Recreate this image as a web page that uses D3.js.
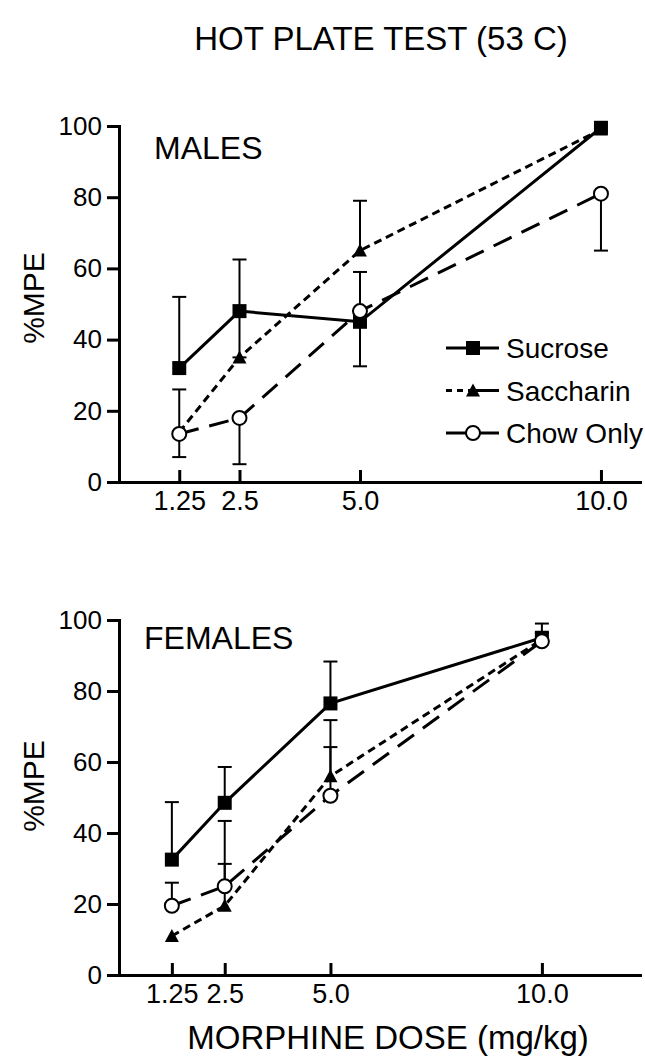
<!DOCTYPE html>
<html>
<head>
<meta charset="utf-8">
<title>Hot Plate Test</title>
<script src="https://d3js.org/d3.v7.min.js"></script>
<style>
  body { margin: 0; background: #fff; }
  svg { display: block; font-family: "Liberation Sans", Arial, Helvetica, sans-serif; }
  .axis path, .axis line { stroke: #000; stroke-width: 3px; }
  .axis text { fill: #000; }
</style>
</head>
<body>
<svg width="645" height="1061"></svg>
<script>
// morphine doses (mg/kg) and tick labels
var doses = [1.25, 2.5, 5.0, 10.0];
var doseLabels = ["1.25", "2.5", "5.0", "10.0"];
var yTicks = [0, 20, 40, 60, 80, 100];
var seriesNames = ["Sucrose", "Saccharin", "Chow Only"];

// males, %MPE means and error bar ends (null = no bar drawn)
var malesSucrose   = [32, 48, 45, 99.5];
var malesSaccharin = [14, 35, 65, 99];
var malesChow      = [13.5, 18, 48, 81];
var malesSucroseHi   = [52, 62.5, 59, null];
var malesSucroseLo   = [null, 35, 32.5, null];
var malesSaccharinHi = [null, null, 79, null];
var malesSaccharinLo = [null, null, null, null];
var malesChowHi      = [26, null, null, null];
var malesChowLo      = [7, 5, null, 65];

// females
var femalesSucrose   = [32.5, 48.5, 76.5, 95];
var femalesSaccharin = [11, 19.5, 56, 94.5];
var femalesChow      = [19.5, 25, 50.5, 94];
var femalesSucroseHi   = [48.7, 58.6, 88.3, 99];
var femalesSucroseLo   = [null, null, null, null];
var femalesSaccharinHi = [null, 43.4, 71.8, 96.3];
var femalesSaccharinLo = [null, null, null, null];
var femalesChowHi      = [26, 31.3, 64.2, null];
var femalesChowLo      = [null, null, null, null];

var styles = {
    "Sucrose":   {dash: null,    marker: "square"},
    "Saccharin": {dash: "8,5",   marker: "triangle"},
    "Chow Only": {dash: "20,11", marker: "circle"}
};

var svg = d3.select("svg");

function marker(g, type, cx, cy) {
    if (type == "square") {
        g.append("rect").attr("x", cx - 7).attr("y", cy - 7)
            .attr("width", 14).attr("height", 14).attr("fill", "#000");
    } else if (type == "triangle") {
        g.append("path")
            .attr("d", "M" + cx + "," + (cy - 7) + "L" + (cx + 7) + "," + (cy + 6) + "L" + (cx - 7) + "," + (cy + 6) + "Z")
            .attr("fill", "#000");
    } else {
        g.append("circle").attr("cx", cx).attr("cy", cy).attr("r", 7)
            .attr("fill", "#fff").attr("stroke", "#000").attr("stroke-width", 2);
    }
}

function panel(p) {
    var x = d3.scaleLinear().domain([0, p.xMax]).range([p.left, p.right]);
    var y = d3.scaleLinear().domain([0, 100]).range([p.bottom, p.top]);
    var g = svg.append("g");

    g.append("g")
        .attr("class", "axis")
        .attr("transform", "translate(0," + p.bottom + ")")
        .call(d3.axisBottom(x).tickValues(doses)
            .tickFormat(function(d, i) { return doseLabels[i]; })
            .tickSizeInner(-12).tickSizeOuter(0).tickPadding(9))
        .selectAll("text").attr("font-size", 27);

    g.append("g")
        .attr("class", "axis")
        .attr("transform", "translate(" + p.left + ",0)")
        .call(d3.axisLeft(y).tickValues(yTicks)
            .tickSizeInner(12).tickSizeOuter(0).tickPadding(5))
        .selectAll("text").attr("font-size", 26);

    g.selectAll(".axis .domain").attr("stroke-linecap", "square");

    var line = d3.line()
        .x(function(d, i) { return x(doses[i]); })
        .y(function(d) { return y(d); });

    p.series.forEach(function(s) {
        g.append("path")
            .datum(s.values)
            .attr("d", line)
            .attr("fill", "none")
            .attr("stroke", "#000")
            .attr("stroke-width", 3)
            .attr("stroke-dasharray", styles[s.name].dash);
    });

    p.series.forEach(function(s) {
        [s.hi, s.lo].forEach(function(ends) {
            ends.forEach(function(e, i) {
                if (e == null) return;
                var cx = x(doses[i]);
                g.append("line").attr("x1", cx).attr("x2", cx)
                    .attr("y1", y(s.values[i])).attr("y2", y(e))
                    .attr("stroke", "#000").attr("stroke-width", 2);
                g.append("line").attr("x1", cx - 7).attr("x2", cx + 7)
                    .attr("y1", y(e)).attr("y2", y(e))
                    .attr("stroke", "#000").attr("stroke-width", 2);
            });
        });
    });

    p.series.forEach(function(s) {
        s.values.forEach(function(v, i) {
            marker(g, styles[s.name].marker, x(doses[i]), y(v));
        });
    });

    g.append("text")
        .attr("x", p.labelX).attr("y", p.labelY)
        .attr("font-size", 32)
        .text(p.label);

    g.append("text")
        .attr("transform", "translate(44," + p.yLabelY + ") rotate(-90)")
        .attr("text-anchor", "middle")
        .attr("font-size", 30)
        .text("%MPE");
}

panel({
    left: 119, right: 640, top: 126, bottom: 482, xMax: 10.81,
    label: "MALES", labelX: 154, labelY: 159, yLabelY: 298,
    series: [
        {name: seriesNames[0], values: malesSucrose, hi: malesSucroseHi, lo: malesSucroseLo},
        {name: seriesNames[1], values: malesSaccharin, hi: malesSaccharinHi, lo: malesSaccharinLo},
        {name: seriesNames[2], values: malesChow, hi: malesChowHi, lo: malesChowLo}
    ]
});

panel({
    left: 119, right: 640, top: 620, bottom: 975, xMax: 12.32,
    label: "FEMALES", labelX: 144, labelY: 649, yLabelY: 786,
    series: [
        {name: seriesNames[0], values: femalesSucrose, hi: femalesSucroseHi, lo: femalesSucroseLo},
        {name: seriesNames[1], values: femalesSaccharin, hi: femalesSaccharinHi, lo: femalesSaccharinLo},
        {name: seriesNames[2], values: femalesChow, hi: femalesChowHi, lo: femalesChowLo}
    ]
});

// legend (top panel)
var legend = svg.append("g");
seriesNames.forEach(function(name, i) {
    var ly = 348 + i * 42.5;
    legend.append("line").attr("x1", 446).attr("x2", 473).attr("y1", ly).attr("y2", ly)
        .attr("stroke", "#000").attr("stroke-width", 3)
        .attr("stroke-dasharray", name == "Saccharin" ? "6,5" : null);
    legend.append("line").attr("x1", 473).attr("x2", 499).attr("y1", ly).attr("y2", ly)
        .attr("stroke", "#000").attr("stroke-width", 3);
    marker(legend, styles[name].marker, 473, ly);
    legend.append("text").attr("x", 506).attr("y", ly).attr("dy", "0.36em")
        .attr("font-size", 28).text(name);
});

svg.append("text")
    .attr("x", 381).attr("y", 50)
    .attr("text-anchor", "middle")
    .attr("font-size", 33)
    .text("HOT PLATE TEST (53 C)");

svg.append("text")
    .attr("x", 388).attr("y", 1049)
    .attr("text-anchor", "middle")
    .attr("font-size", 33)
    .text("MORPHINE DOSE (mg/kg)");
</script>
</body>
</html>
